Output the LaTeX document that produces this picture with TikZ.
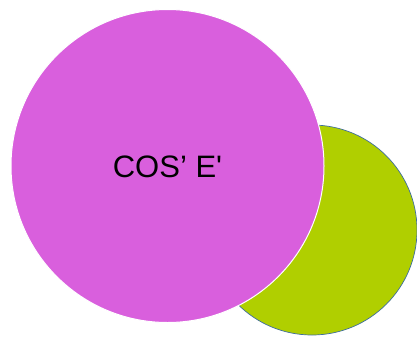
\documentclass[tikz,border=0pt]{standalone}
\usepackage{fontspec}
\setmainfont{Liberation Sans}[Ligatures=TeXOff]
\definecolor{magentafill}{HTML}{D95FDD}
\definecolor{greenfill}{HTML}{B0CF00}
\definecolor{greenedge}{HTML}{3F6E9E}
\begin{document}
\begin{tikzpicture}[x=1pt,y=-1pt,
  bigcircle/.style={circle, fill=magentafill, draw=white, line width=1pt, minimum size=313pt, inner sep=0pt},
  smallcircle/.style={circle, fill=greenfill, draw=greenedge, line width=0.7pt, minimum size=210pt, inner sep=0pt}]
\useasboundingbox (0,0) rectangle (417,338);
\node[smallcircle] (green) at (312,230) {};
\node[bigcircle] (magenta) at (167.5,166) {};
\node[font=\fontsize{31}{36}\selectfont, anchor=base] (label) at (167.5,177) {COS’ E'};
\end{tikzpicture}
\end{document}
